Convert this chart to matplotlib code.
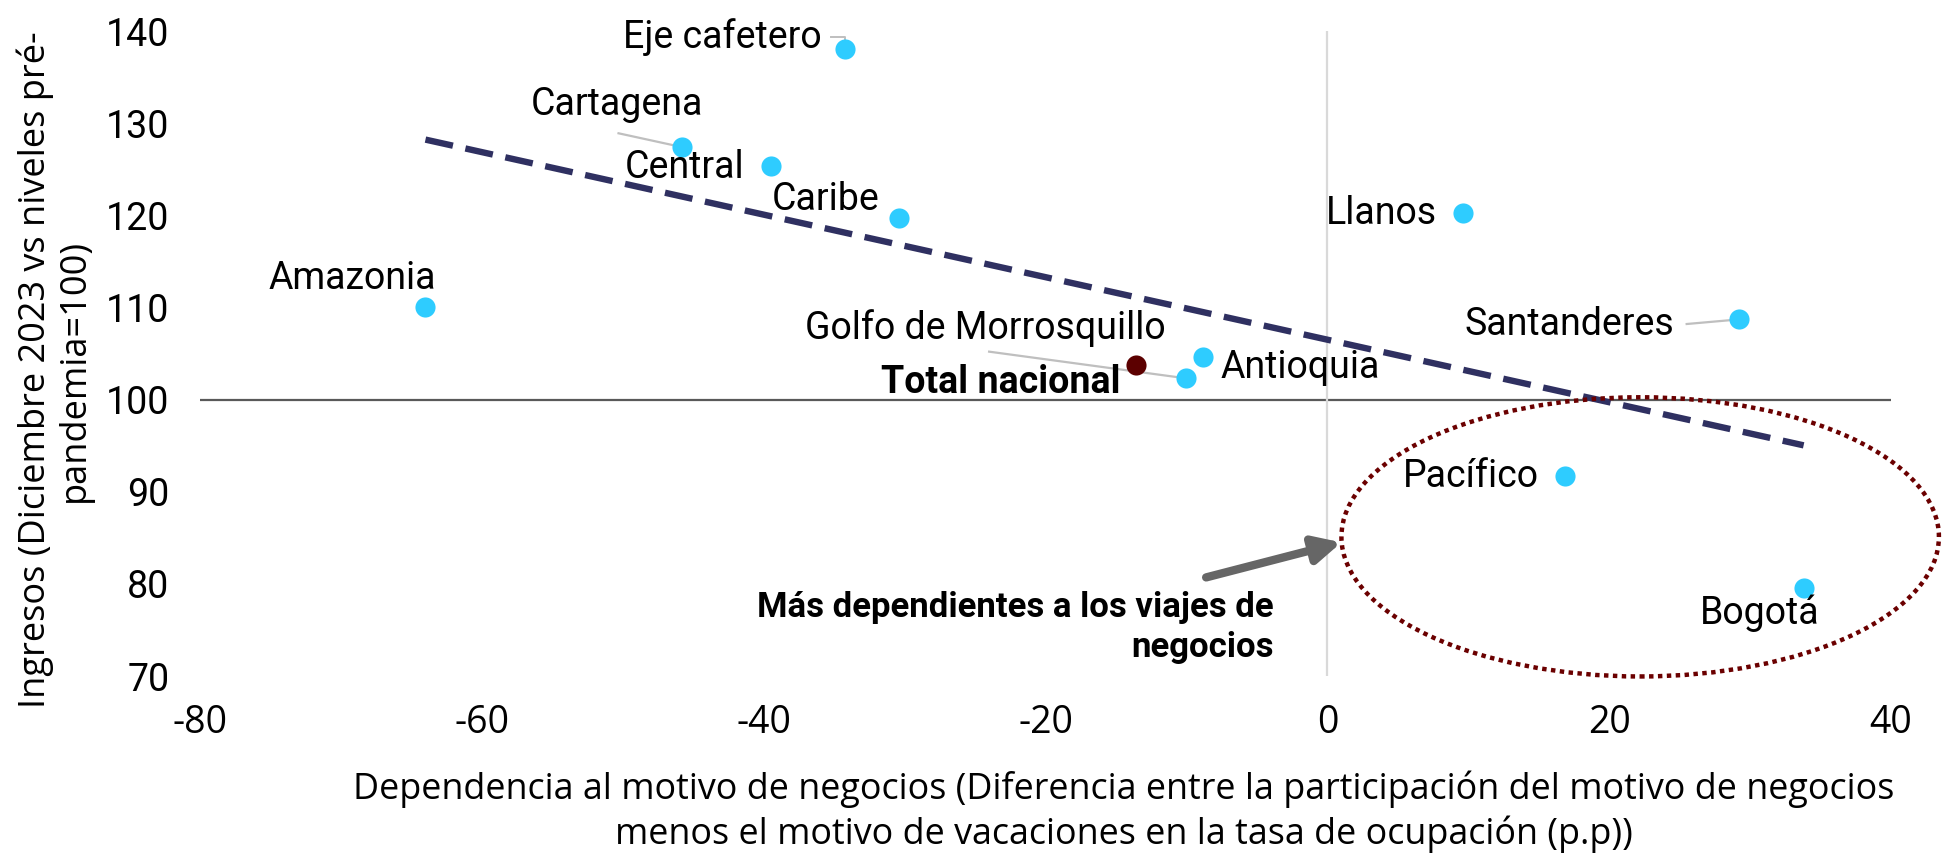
import matplotlib
matplotlib.use("Agg")
import matplotlib.pyplot as plt
from matplotlib.patches import Ellipse
import numpy as np

plt.rcParams['font.family'] = ['Roboto', 'DejaVu Sans']

# ---- data ----
regions = ["Eje cafetero", "Cartagena", "Central", "Caribe", "Amazonia",
           "Antioquia", "Golfo de Morrosquillo", "Llanos", "Santanderes",
           "Pacífico", "Bogotá"]
dep_x = [-34.2, -45.8, -39.5, -30.4, -64.0, -8.8, -10.0, 9.6, 29.2, 16.9, 33.8]
ingresos_y = [138.0, 127.4, 125.3, 119.7, 110.0, 104.6, 102.3, 120.2, 108.7, 91.7, 79.6]

total_label = "Total nacional"
total_x = [-13.6]
total_y = [103.7]

x_ticks = [-80, -60, -40, -20, 0, 20, 40]
y_ticks = [70, 80, 90, 100, 110, 120, 130, 140]

# label placement: (x, y, ha)
label_pos = {
    "Eje cafetero": (-35.9, 139.3, "right"),
    "Cartagena": (-50.4, 132.0, "center"),
    "Central": (-41.4, 125.2, "right"),
    "Caribe": (-31.8, 121.7, "right"),
    "Amazonia": (-69.2, 113.1, "center"),
    "Antioquia": (-7.6, 103.5, "left"),
    "Golfo de Morrosquillo": (-24.3, 107.8, "center"),
    "Llanos": (7.8, 120.2, "right"),
    "Santanderes": (24.6, 108.1, "right"),
    "Pacífico": (15.0, 91.6, "right"),
    "Bogotá": (30.7, 76.8, "center"),
}
leaders = {
    "Cartagena": (-50.3, 128.9),
    "Golfo de Morrosquillo": (-24.0, 105.2),
    "Santanderes": (25.5, 108.2),
}

AXIS_FONT = ["Open Sans", "DejaVu Sans"]

fig = plt.figure(figsize=(19.44, 8.55), dpi=100)
ax = fig.add_axes([200/1944, 179/855, (1891-200)/1944, (676-31)/855])
ax.set_xlim(-80, 40)
ax.set_ylim(70, 140)

for s in ax.spines.values():
    s.set_visible(False)

# reference lines (axes crossing)
ax.axhline(100, color="#595959", lw=1.6, zorder=1)
ax.axvline(0, color="#D9D9D9", lw=1.6, zorder=1)

# trend line (linear fit over all points incl. total nacional)
all_x = np.array(dep_x + total_x)
all_y = np.array(ingresos_y + total_y)
coef = np.polyfit(all_x, all_y, 1)
xs = np.array([all_x.min(), all_x.max()])
ax.plot(xs, np.polyval(coef, xs), color="#2F3061", lw=4.6,
        linestyle=(0, (4.4, 2.0)), zorder=2)

# leader lines
for name, (lx, ly) in leaders.items():
    i = regions.index(name)
    ax.plot([lx, dep_x[i]], [ly, ingresos_y[i]], color="#BFBFBF", lw=1.6, zorder=2)
i = regions.index("Eje cafetero")
ax.plot([-35.2, -34.2, -34.2], [139.3, 139.3, ingresos_y[i]], color="#BFBFBF", lw=1.4, zorder=2)

# points
ax.scatter(dep_x, ingresos_y, s=210, color="#2ECCFF", zorder=3, linewidths=0)
ax.scatter(total_x, total_y, s=210, color="#5C0000", zorder=3, linewidths=0)

# labels
for name in regions:
    lx, ly, ha = label_pos[name]
    ax.text(lx, ly, name, ha=ha, va="center", fontsize=27, color="#000000")
ax.text(-14.7, 101.9, total_label, ha="right", va="center", fontsize=27,
        fontweight="bold", color="#000000")

# ellipse highlight
ell = Ellipse((22.2, 85.1), 42.4, 30.3, fill=False, edgecolor="#6B0000",
              lw=3.2, linestyle=(0, (1, 1)), clip_on=False, zorder=2)
ax.add_patch(ell)

# arrow and annotation
ax.annotate("", xy=(1.0, 84.5), xytext=(-8.6, 80.7),
            arrowprops=dict(arrowstyle="-|>,head_length=1.6,head_width=0.8",
                            color="#666666", lw=6, shrinkA=0, shrinkB=0),
            zorder=4)
ax.text(-3.8, 75.3, "Más dependientes a los viajes de\nnegocios", ha="right",
        va="center", fontsize=25, fontweight="bold", multialignment="right",
        linespacing=1.28)

# ticks
ax.set_xticks(x_ticks)
ax.set_yticks(y_ticks)
ax.set_xticklabels([str(v) for v in x_ticks], family=AXIS_FONT, fontsize=27)
ax.set_yticklabels([str(v) for v in y_ticks], fontsize=27)
ax.tick_params(axis="both", length=0, colors="#000000")
ax.tick_params(axis="y", pad=22)
ax.tick_params(axis="x", pad=20)

# axis titles
fig.text(0.028, 485 / 855,
         "Ingresos (Diciembre 2023 vs niveles pré-\npandemia=100)",
         rotation=90, ha="center", va="center", fontsize=26,
         family=AXIS_FONT, multialignment="center",
         linespacing=1.1)
fig.text(1124 / 1944, 43 / 855,
         "Dependencia al motivo de negocios (Diferencia entre la participación del motivo de negocios\n"
         "menos el motivo de vacaciones en la tasa de ocupación (p.p))",
         ha="center", va="center", fontsize=25.8, family=AXIS_FONT,
         multialignment="center", linespacing=1.25)

fig.savefig("out.png", dpi=100)
